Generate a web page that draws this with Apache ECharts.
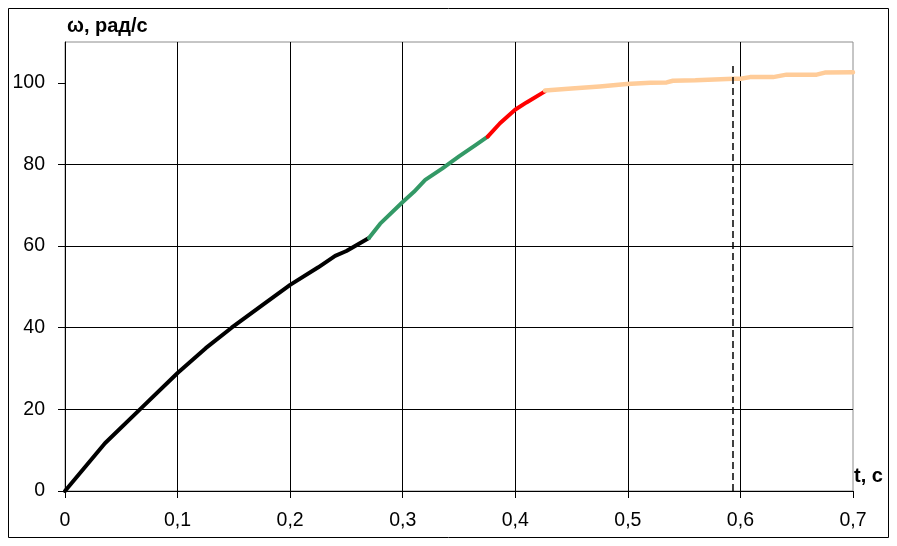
<!DOCTYPE html>
<html>
<head>
<meta charset="utf-8">
<script src="https://cdn.jsdelivr.net/npm/echarts@6/dist/echarts.min.js"></script>
<style>
html,body{margin:0;padding:0;background:#fff;}
#c{width:897px;height:546px;}
</style>
</head>
<body>
<div id="c"></div>
<script>
// Data
var blackT = [0, 0.0355, 0.0666, 0.1, 0.125, 0.148, 0.175, 0.2, 0.225, 0.24, 0.25, 0.27];
var blackW = [0, 11.7, 20, 28.9, 35, 40, 45.5, 50.5, 54.8, 57.6, 58.8, 62];
var greenT = [0.27, 0.28, 0.3, 0.31, 0.32, 0.335, 0.35, 0.365, 0.3755];
var greenW = [62, 65.5, 70.8, 73.3, 76.2, 79, 82, 84.8, 86.8];
var redT = [0.3755, 0.3864, 0.3998, 0.41, 0.4264];
var redW = [86.8, 90.1, 93.4, 95.2, 97.9];
var orangeT = [0.4264, 0.45, 0.475, 0.499, 0.52, 0.5345, 0.54, 0.56, 0.5937, 0.6, 0.6085, 0.629, 0.641, 0.6677, 0.675, 0.70];
var orangeW = [98.1, 98.6, 99.1, 99.7, 100.0, 100.1, 100.5, 100.6, 101.0, 101.0, 101.4, 101.4, 102.0, 102.0, 102.5, 102.6];
var dashT = [0.5934, 0.5934];
var dashW = [0, 105];
var yTicks = [0, 20, 40, 60, 80, 100];
var xTitle = 't, c';
var yTitle = 'ω, рад/с';

function pairs(t, w) { return t.map(function (v, i) { return [v, w[i]]; }); }

var chart = echarts.init(document.getElementById('c'), null, { renderer: 'canvas' });
var font = 'Liberation Sans, Arial, sans-serif';
function lineSeries(t, w, color, width, z) {
  return {
    type: 'line', data: pairs(t, w), showSymbol: false, symbol: 'none',
    lineStyle: { color: color, width: width, cap: 'round', join: 'round' },
    z: z, animation: false
  };
}
var dash = lineSeries(dashT, dashW, '#000', 1.5, 5);
dash.lineStyle.type = [7, 4];
dash.lineStyle.cap = 'butt';

chart.setOption({
  backgroundColor: '#fff',
  animation: false,
  graphic: [{
    type: 'rect', shape: { x: 8.5, y: 8.5, width: 880, height: 529 },
    style: { fill: 'none', stroke: '#000', lineWidth: 1 }, z: 100
  }],
  grid: { left: 65, right: 44, top: 42, bottom: 55, show: true, borderColor: '#8c8c8c', borderWidth: 1, backgroundColor: 'transparent' },
  xAxis: {
    type: 'value', min: 0, max: 0.7, interval: 0.1,
    name: xTitle, nameLocation: 'end', nameGap: 1,
    nameTextStyle: { fontFamily: font, fontSize: 20, fontWeight: 'bold', color: '#000', align: 'left', verticalAlign: 'bottom', padding: [0, 0, 5, 0] },
    axisLine: { show: true, onZero: false, lineStyle: { color: '#000', width: 1 } },
    axisTick: { show: true, length: 7, inside: false, lineStyle: { color: '#000' } },
    axisLabel: { fontFamily: font, fontSize: 19.5, color: '#000', margin: 20, formatter: function (v) { return String(+v.toFixed(2)).replace('.', ','); } },
    splitLine: { show: true, showMinLine: false, showMaxLine: false, lineStyle: { color: '#000', width: 1 } }
  },
  yAxis: {
    type: 'value', min: 0, max: 110, interval: 20,
    name: yTitle, nameLocation: 'end', nameGap: 6,
    nameTextStyle: { fontFamily: font, fontSize: 20, fontWeight: 'bold', color: '#000', align: 'left', padding: [0, 0, 0, 2] },
    axisLine: { show: true, onZero: false, lineStyle: { color: '#000', width: 1 } },
    axisTick: { show: true, length: 7, customValues: yTicks, lineStyle: { color: '#000' } },
    axisLabel: { fontFamily: font, fontSize: 19.5, color: '#000', margin: 20, customValues: yTicks },
    splitLine: { show: true, showMinLine: false, showMaxLine: false, lineStyle: { color: '#000', width: 1 } }
  },
  series: [
    lineSeries(blackT, blackW, '#000000', 4, 3),
    lineSeries(greenT, greenW, '#339966', 4, 3),
    lineSeries(redT, redW, '#ff0000', 4, 3),
    lineSeries(orangeT, orangeW, '#ffcc99', 4.5, 3),
    dash
  ]
});
</script>
</body>
</html>
